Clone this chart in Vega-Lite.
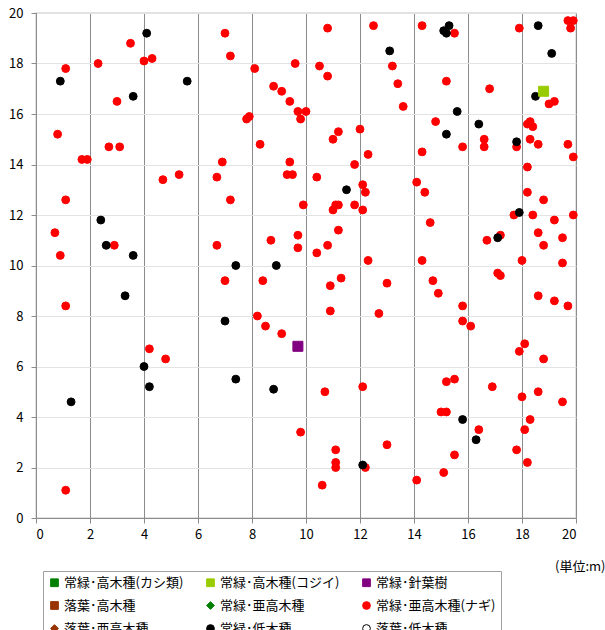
{
  "$schema": "https://vega.github.io/schema/vega-lite/v6.json",
  "autosize": "none",
  "width": 540,
  "height": 505,
  "padding": {"left": 36, "top": 13, "right": 29, "bottom": 112},
  "background": "white",
  "datasets": {
    "pts": [
      {"t":"常緑･亜高木種(ナギ)","x":3.5,"y":18.8},{"t":"常緑･亜高木種(ナギ)","x":2.3,"y":18.0},{"t":"常緑･亜高木種(ナギ)","x":4.0,"y":18.1},{"t":"常緑･亜高木種(ナギ)","x":4.3,"y":18.2},{"t":"常緑･亜高木種(ナギ)","x":1.1,"y":17.8},{"t":"常緑･亜高木種(ナギ)","x":3.0,"y":16.5},{"t":"常緑･亜高木種(ナギ)","x":0.8,"y":15.2},{"t":"常緑･亜高木種(ナギ)","x":2.7,"y":14.7},{"t":"常緑･亜高木種(ナギ)","x":3.1,"y":14.7},{"t":"常緑･亜高木種(ナギ)","x":1.7,"y":14.2},{"t":"常緑･亜高木種(ナギ)","x":1.9,"y":14.2},{"t":"常緑･亜高木種(ナギ)","x":4.7,"y":13.4},{"t":"常緑･亜高木種(ナギ)","x":5.3,"y":13.6},{"t":"常緑･亜高木種(ナギ)","x":1.1,"y":12.6},{"t":"常緑･亜高木種(ナギ)","x":0.7,"y":11.3},{"t":"常緑･亜高木種(ナギ)","x":2.9,"y":10.8},{"t":"常緑･亜高木種(ナギ)","x":0.9,"y":10.4},
      {"t":"常緑･亜高木種(ナギ)","x":7.0,"y":19.2},{"t":"常緑･亜高木種(ナギ)","x":7.2,"y":18.3},{"t":"常緑･亜高木種(ナギ)","x":8.1,"y":17.8},{"t":"常緑･亜高木種(ナギ)","x":9.6,"y":18.0},{"t":"常緑･亜高木種(ナギ)","x":10.8,"y":19.4},{"t":"常緑･亜高木種(ナギ)","x":12.5,"y":19.5},{"t":"常緑･亜高木種(ナギ)","x":10.5,"y":17.9},{"t":"常緑･亜高木種(ナギ)","x":10.8,"y":17.5},{"t":"常緑･亜高木種(ナギ)","x":13.2,"y":17.9},{"t":"常緑･亜高木種(ナギ)","x":13.4,"y":17.2},{"t":"常緑･亜高木種(ナギ)","x":13.6,"y":16.3},{"t":"常緑･亜高木種(ナギ)","x":8.8,"y":17.1},{"t":"常緑･亜高木種(ナギ)","x":9.1,"y":16.9},{"t":"常緑･亜高木種(ナギ)","x":9.4,"y":16.5},{"t":"常緑･亜高木種(ナギ)","x":9.7,"y":16.1},{"t":"常緑･亜高木種(ナギ)","x":10.0,"y":16.1},{"t":"常緑･亜高木種(ナギ)","x":9.8,"y":15.8},{"t":"常緑･亜高木種(ナギ)","x":7.8,"y":15.8},{"t":"常緑･亜高木種(ナギ)","x":7.9,"y":15.9},{"t":"常緑･亜高木種(ナギ)","x":8.3,"y":14.8},{"t":"常緑･亜高木種(ナギ)","x":11.2,"y":15.3},{"t":"常緑･亜高木種(ナギ)","x":11.0,"y":15.0},{"t":"常緑･亜高木種(ナギ)","x":12.0,"y":15.4},{"t":"常緑･亜高木種(ナギ)","x":12.3,"y":14.4},{"t":"常緑･亜高木種(ナギ)","x":11.8,"y":14.0},{"t":"常緑･亜高木種(ナギ)","x":6.9,"y":14.1},{"t":"常緑･亜高木種(ナギ)","x":6.7,"y":13.5},{"t":"常緑･亜高木種(ナギ)","x":9.4,"y":14.1},{"t":"常緑･亜高木種(ナギ)","x":9.3,"y":13.6},{"t":"常緑･亜高木種(ナギ)","x":9.5,"y":13.6},{"t":"常緑･亜高木種(ナギ)","x":10.4,"y":13.5},{"t":"常緑･亜高木種(ナギ)","x":12.1,"y":13.2},{"t":"常緑･亜高木種(ナギ)","x":12.2,"y":12.9},{"t":"常緑･亜高木種(ナギ)","x":7.2,"y":12.6},{"t":"常緑･亜高木種(ナギ)","x":9.9,"y":12.4},{"t":"常緑･亜高木種(ナギ)","x":11.0,"y":12.2},{"t":"常緑･亜高木種(ナギ)","x":11.1,"y":12.4},{"t":"常緑･亜高木種(ナギ)","x":11.2,"y":12.4},{"t":"常緑･亜高木種(ナギ)","x":11.8,"y":12.4},{"t":"常緑･亜高木種(ナギ)","x":12.1,"y":12.2},{"t":"常緑･亜高木種(ナギ)","x":11.2,"y":11.4},{"t":"常緑･亜高木種(ナギ)","x":8.7,"y":11.0},{"t":"常緑･亜高木種(ナギ)","x":9.7,"y":11.2},{"t":"常緑･亜高木種(ナギ)","x":9.7,"y":10.7},{"t":"常緑･亜高木種(ナギ)","x":10.8,"y":10.8},{"t":"常緑･亜高木種(ナギ)","x":10.4,"y":10.5},{"t":"常緑･亜高木種(ナギ)","x":12.3,"y":10.2},{"t":"常緑･亜高木種(ナギ)","x":6.7,"y":10.8},
      {"t":"常緑･亜高木種(ナギ)","x":14.3,"y":19.5},{"t":"常緑･亜高木種(ナギ)","x":15.5,"y":19.2},{"t":"常緑･亜高木種(ナギ)","x":17.9,"y":19.4},{"t":"常緑･亜高木種(ナギ)","x":19.7,"y":19.7},{"t":"常緑･亜高木種(ナギ)","x":19.9,"y":19.7},{"t":"常緑･亜高木種(ナギ)","x":19.8,"y":19.4},{"t":"常緑･亜高木種(ナギ)","x":15.2,"y":17.3},{"t":"常緑･亜高木種(ナギ)","x":16.8,"y":17.0},{"t":"常緑･亜高木種(ナギ)","x":19.0,"y":16.4},{"t":"常緑･亜高木種(ナギ)","x":19.2,"y":16.5},{"t":"常緑･亜高木種(ナギ)","x":14.8,"y":15.7},{"t":"常緑･亜高木種(ナギ)","x":18.2,"y":15.6},{"t":"常緑･亜高木種(ナギ)","x":18.3,"y":15.7},{"t":"常緑･亜高木種(ナギ)","x":18.4,"y":15.5},{"t":"常緑･亜高木種(ナギ)","x":16.6,"y":15.0},{"t":"常緑･亜高木種(ナギ)","x":16.6,"y":14.7},{"t":"常緑･亜高木種(ナギ)","x":15.8,"y":14.7},{"t":"常緑･亜高木種(ナギ)","x":14.3,"y":14.5},{"t":"常緑･亜高木種(ナギ)","x":17.8,"y":14.7},{"t":"常緑･亜高木種(ナギ)","x":18.3,"y":15.0},{"t":"常緑･亜高木種(ナギ)","x":18.6,"y":14.8},{"t":"常緑･亜高木種(ナギ)","x":19.7,"y":14.8},{"t":"常緑･亜高木種(ナギ)","x":19.9,"y":14.3},{"t":"常緑･亜高木種(ナギ)","x":18.2,"y":13.9},{"t":"常緑･亜高木種(ナギ)","x":14.1,"y":13.3},{"t":"常緑･亜高木種(ナギ)","x":14.4,"y":12.9},{"t":"常緑･亜高木種(ナギ)","x":18.2,"y":12.9},{"t":"常緑･亜高木種(ナギ)","x":18.8,"y":12.6},{"t":"常緑･亜高木種(ナギ)","x":17.7,"y":12.0},{"t":"常緑･亜高木種(ナギ)","x":18.4,"y":12.0},{"t":"常緑･亜高木種(ナギ)","x":19.9,"y":12.0},{"t":"常緑･亜高木種(ナギ)","x":19.2,"y":11.8},{"t":"常緑･亜高木種(ナギ)","x":14.6,"y":11.7},{"t":"常緑･亜高木種(ナギ)","x":18.6,"y":11.3},{"t":"常緑･亜高木種(ナギ)","x":19.5,"y":11.1},{"t":"常緑･亜高木種(ナギ)","x":17.2,"y":11.2},{"t":"常緑･亜高木種(ナギ)","x":16.7,"y":11.0},{"t":"常緑･亜高木種(ナギ)","x":18.8,"y":10.8},{"t":"常緑･亜高木種(ナギ)","x":14.3,"y":10.2},{"t":"常緑･亜高木種(ナギ)","x":18.0,"y":10.2},{"t":"常緑･亜高木種(ナギ)","x":19.5,"y":10.1},
      {"t":"常緑･亜高木種(ナギ)","x":1.1,"y":8.4},{"t":"常緑･亜高木種(ナギ)","x":4.2,"y":6.7},{"t":"常緑･亜高木種(ナギ)","x":4.8,"y":6.3},{"t":"常緑･亜高木種(ナギ)","x":1.1,"y":1.1},
      {"t":"常緑･亜高木種(ナギ)","x":7.0,"y":9.4},{"t":"常緑･亜高木種(ナギ)","x":8.4,"y":9.4},{"t":"常緑･亜高木種(ナギ)","x":10.9,"y":9.2},{"t":"常緑･亜高木種(ナギ)","x":11.3,"y":9.5},{"t":"常緑･亜高木種(ナギ)","x":13.0,"y":9.3},{"t":"常緑･亜高木種(ナギ)","x":8.2,"y":8.0},{"t":"常緑･亜高木種(ナギ)","x":8.5,"y":7.6},{"t":"常緑･亜高木種(ナギ)","x":9.1,"y":7.3},{"t":"常緑･亜高木種(ナギ)","x":10.9,"y":8.2},{"t":"常緑･亜高木種(ナギ)","x":12.7,"y":8.1},{"t":"常緑･亜高木種(ナギ)","x":10.7,"y":5.0},{"t":"常緑･亜高木種(ナギ)","x":12.1,"y":5.2},{"t":"常緑･亜高木種(ナギ)","x":9.8,"y":3.4},{"t":"常緑･亜高木種(ナギ)","x":13.0,"y":2.9},{"t":"常緑･亜高木種(ナギ)","x":11.1,"y":2.7},{"t":"常緑･亜高木種(ナギ)","x":11.1,"y":2.2},{"t":"常緑･亜高木種(ナギ)","x":11.1,"y":2.0},{"t":"常緑･亜高木種(ナギ)","x":12.2,"y":2.0},{"t":"常緑･亜高木種(ナギ)","x":10.6,"y":1.3},
      {"t":"常緑･亜高木種(ナギ)","x":17.1,"y":9.7},{"t":"常緑･亜高木種(ナギ)","x":17.2,"y":9.6},{"t":"常緑･亜高木種(ナギ)","x":14.7,"y":9.4},{"t":"常緑･亜高木種(ナギ)","x":14.9,"y":8.9},{"t":"常緑･亜高木種(ナギ)","x":15.8,"y":8.4},{"t":"常緑･亜高木種(ナギ)","x":15.8,"y":7.8},{"t":"常緑･亜高木種(ナギ)","x":16.1,"y":7.6},{"t":"常緑･亜高木種(ナギ)","x":18.6,"y":8.8},{"t":"常緑･亜高木種(ナギ)","x":19.2,"y":8.6},{"t":"常緑･亜高木種(ナギ)","x":19.7,"y":8.4},{"t":"常緑･亜高木種(ナギ)","x":18.1,"y":6.9},{"t":"常緑･亜高木種(ナギ)","x":17.9,"y":6.6},{"t":"常緑･亜高木種(ナギ)","x":18.8,"y":6.3},{"t":"常緑･亜高木種(ナギ)","x":15.5,"y":5.5},{"t":"常緑･亜高木種(ナギ)","x":15.2,"y":5.4},{"t":"常緑･亜高木種(ナギ)","x":16.9,"y":5.2},{"t":"常緑･亜高木種(ナギ)","x":18.0,"y":4.8},{"t":"常緑･亜高木種(ナギ)","x":18.6,"y":5.0},{"t":"常緑･亜高木種(ナギ)","x":19.5,"y":4.6},{"t":"常緑･亜高木種(ナギ)","x":15.0,"y":4.2},{"t":"常緑･亜高木種(ナギ)","x":15.2,"y":4.2},{"t":"常緑･亜高木種(ナギ)","x":18.3,"y":3.9},{"t":"常緑･亜高木種(ナギ)","x":16.4,"y":3.5},{"t":"常緑･亜高木種(ナギ)","x":18.1,"y":3.5},{"t":"常緑･亜高木種(ナギ)","x":17.8,"y":2.7},{"t":"常緑･亜高木種(ナギ)","x":15.5,"y":2.5},{"t":"常緑･亜高木種(ナギ)","x":18.2,"y":2.2},{"t":"常緑･亜高木種(ナギ)","x":15.1,"y":1.8},{"t":"常緑･亜高木種(ナギ)","x":14.1,"y":1.5},
      {"t":"常緑･低木種","x":4.1,"y":19.2},{"t":"常緑･低木種","x":0.9,"y":17.3},{"t":"常緑･低木種","x":5.6,"y":17.3},{"t":"常緑･低木種","x":3.6,"y":16.7},{"t":"常緑･低木種","x":2.4,"y":11.8},{"t":"常緑･低木種","x":2.6,"y":10.8},{"t":"常緑･低木種","x":3.6,"y":10.4},{"t":"常緑･低木種","x":13.1,"y":18.5},{"t":"常緑･低木種","x":11.5,"y":13.0},{"t":"常緑･低木種","x":7.4,"y":10.0},{"t":"常緑･低木種","x":8.9,"y":10.0},{"t":"常緑･低木種","x":15.1,"y":19.3},{"t":"常緑･低木種","x":15.2,"y":19.2},{"t":"常緑･低木種","x":15.3,"y":19.5},{"t":"常緑･低木種","x":18.6,"y":19.5},{"t":"常緑･低木種","x":19.1,"y":18.4},{"t":"常緑･低木種","x":18.5,"y":16.7},{"t":"常緑･低木種","x":15.6,"y":16.1},{"t":"常緑･低木種","x":16.4,"y":15.6},{"t":"常緑･低木種","x":15.2,"y":15.2},{"t":"常緑･低木種","x":17.8,"y":14.9},{"t":"常緑･低木種","x":17.9,"y":12.1},{"t":"常緑･低木種","x":17.1,"y":11.1},{"t":"常緑･低木種","x":3.3,"y":8.8},{"t":"常緑･低木種","x":4.0,"y":6.0},{"t":"常緑･低木種","x":4.2,"y":5.2},{"t":"常緑･低木種","x":1.3,"y":4.6},{"t":"常緑･低木種","x":7.0,"y":7.8},{"t":"常緑･低木種","x":7.4,"y":5.5},{"t":"常緑･低木種","x":8.8,"y":5.1},{"t":"常緑･低木種","x":12.1,"y":2.1},{"t":"常緑･低木種","x":15.8,"y":3.9},{"t":"常緑･低木種","x":16.3,"y":3.1}
    ],
    "sq": [
      {"t":"常緑･高木種(コジイ)","x":18.8,"y":16.9},
      {"t":"常緑･針葉樹","x":9.7,"y":6.8}
    ]
  },
  "encoding": {
    "x": {"field": "x", "type": "quantitative", "scale": {"domain": [0, 20], "nice": false},
      "axis": {"values": [0,2,4,6,8,10,12,14,16,18,20], "title": "(単位:m)", "titleX": 569, "titleY": 48, "titleAlign": "right", "titleAnchor": null, "titleBaseline": "middle", "gridColor": "#8c8c8c", "labelPadding": 5}},
    "y": {"field": "y", "type": "quantitative", "scale": {"domain": [0, 20], "nice": false},
      "axis": {"values": [0,2,4,6,8,10,12,14,16,18,20], "title": null, "gridColor": "#e3e3e3", "labelPadding": 8}},
    "fill": {"field": "t", "type": "nominal",
      "scale": {"domain": ["常緑･高木種(カシ類)","常緑･高木種(コジイ)","常緑･針葉樹","落葉･高木種","常緑･亜高木種","常緑･亜高木種(ナギ)","落葉･亜高木種","常緑･低木種","落葉･低木種"],
        "range": ["#008000","#99cc00","#800080","#993300","#008000","#ff0000","#993300","#000000","#ffffff"]},
      "legend": {"title": null, "orient": "none", "legendX": 7, "legendY": 558, "direction": "horizontal", "columns": 3}},
    "stroke": {"field": "t", "type": "nominal",
      "scale": {"domain": ["常緑･高木種(カシ類)","常緑･高木種(コジイ)","常緑･針葉樹","落葉･高木種","常緑･亜高木種","常緑･亜高木種(ナギ)","落葉･亜高木種","常緑･低木種","落葉･低木種"],
        "range": ["#008000","#99cc00","#800080","#993300","#008000","#ff0000","#993300","#000000","#000000"]},
      "legend": {"title": null, "orient": "none", "legendX": 7, "legendY": 558, "direction": "horizontal", "columns": 3}},
    "shape": {"field": "t", "type": "nominal",
      "scale": {"domain": ["常緑･高木種(カシ類)","常緑･高木種(コジイ)","常緑･針葉樹","落葉･高木種","常緑･亜高木種","常緑･亜高木種(ナギ)","落葉･亜高木種","常緑･低木種","落葉･低木種"],
        "range": ["square","square","square","square","diamond","circle","diamond","circle","circle"]},
      "legend": {"title": null, "orient": "none", "legendX": 7, "legendY": 558, "direction": "horizontal", "columns": 3}}
  },
  "layer": [
    {"data": {"name": "pts"}, "mark": {"type": "point", "filled": true, "size": 62, "strokeWidth": 1, "opacity": 1}},
    {"data": {"name": "sq"}, "mark": {"type": "point", "filled": true, "size": 100, "strokeWidth": 1, "opacity": 1}}
  ],
  "config": {
    "font": "Noto Sans CJK JP",
    "view": {"stroke": "#d9d9d9", "strokeWidth": 1.5},
    "axis": {"labelFont": "Noto Sans CJK JP", "labelFontSize": 13, "labelColor": "#000000", "domainColor": "#8c8c8c", "tickColor": "#8c8c8c", "tickSize": 5, "gridWidth": 1, "titleFont": "Noto Sans CJK JP", "titleFontSize": 13, "titleFontWeight": "normal", "titleColor": "#000000"},
    "legend": {"labelFont": "Noto Sans CJK JP", "labelFontSize": 13, "labelColor": "#000000", "labelLimit": 300, "labelOffset": 3, "symbolSize": 60, "symbolStrokeWidth": 1, "rowPadding": 9, "columnPadding": 20, "padding": 5, "strokeColor": "#a0a0a0", "fillColor": "#ffffff", "symbolOpacity": 1}
  }
}
